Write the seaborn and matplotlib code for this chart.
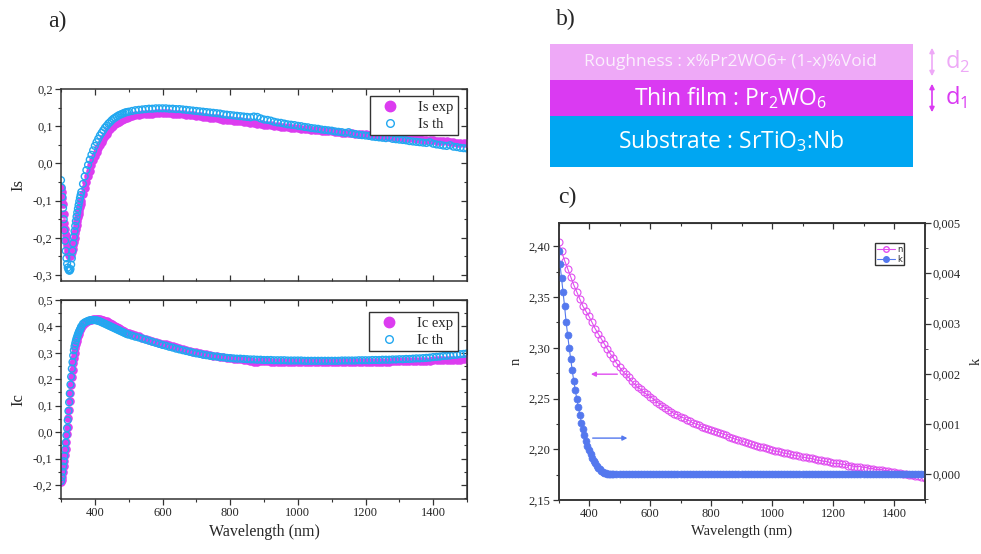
import numpy as np
import matplotlib
matplotlib.use('Agg')
import matplotlib.pyplot as plt
from matplotlib.ticker import FuncFormatter, MultipleLocator
from matplotlib.patches import Rectangle
from matplotlib.lines import Line2D
import seaborn as sns

sns.set_style('ticks')
plt.rcParams['font.family'] = ['Liberation Serif', 'DejaVu Serif']
plt.rcParams['mathtext.fontset'] = 'custom'
plt.rcParams['mathtext.rm'] = 'Open Sans'

# ---------------- data ----------------
# panel a: wavelength grid (2 nm / 5 nm in the UV, 10 nm above 500 nm)
wl_a = list(range(300, 360, 2)) + list(range(360, 500, 5)) + list(range(500, 1501, 10))

is_exp = [-0.065, -0.078, -0.092, -0.110, -0.135, -0.160, -0.177, -0.193, -0.207, -0.220,
          -0.230, -0.238, -0.246, -0.250, -0.249, -0.245, -0.238, -0.230, -0.220, -0.210,
          -0.200, -0.188, -0.176, -0.165, -0.155, -0.145, -0.136, -0.127, -0.118, -0.110,
          -0.102, -0.083, -0.066, -0.050, -0.035, -0.020, -0.005, 0.008, 0.020, 0.031,
          0.041, 0.050, 0.058, 0.066, 0.073, 0.080, 0.086, 0.092, 0.097, 0.101,
          0.105, 0.108, 0.111, 0.114, 0.117, 0.119, 0.121, 0.123,
          0.125, 0.127, 0.129, 0.131, 0.132, 0.133, 0.134, 0.134, 0.135, 0.135,
          0.135, 0.135, 0.135, 0.134, 0.134, 0.133, 0.132, 0.131, 0.130, 0.129,
          0.128, 0.127, 0.126, 0.124, 0.123, 0.122, 0.121, 0.120, 0.118, 0.117,
          0.116, 0.115, 0.114, 0.113, 0.111, 0.110, 0.109, 0.108, 0.107, 0.105,
          0.104, 0.103, 0.102, 0.101, 0.100, 0.099, 0.098, 0.097, 0.096, 0.095,
          0.094, 0.093, 0.092, 0.092, 0.091, 0.090, 0.089, 0.088, 0.087, 0.087,
          0.086, 0.085, 0.084, 0.083, 0.083, 0.082, 0.081, 0.080, 0.079, 0.079,
          0.078, 0.077, 0.076, 0.076, 0.075, 0.074, 0.073, 0.072, 0.072, 0.071,
          0.070, 0.069, 0.068, 0.068, 0.067, 0.066, 0.065, 0.064, 0.063, 0.063,
          0.062, 0.061, 0.060, 0.060, 0.059, 0.058, 0.057, 0.056, 0.056, 0.055,
          0.054]

is_th = [-0.045, -0.065, -0.090, -0.120, -0.150, -0.180, -0.208, -0.235, -0.255, -0.270,
         -0.280, -0.285, -0.288, -0.288, -0.284, -0.272, -0.255, -0.235, -0.215, -0.198,
         -0.182, -0.168, -0.155, -0.143, -0.132, -0.122, -0.112, -0.102, -0.093, -0.085,
         -0.077, -0.055, -0.035, -0.018, -0.004, 0.010, 0.023, 0.035, 0.047, 0.057,
         0.066, 0.075, 0.082, 0.089, 0.096, 0.101, 0.107, 0.111, 0.116, 0.120,
         0.123, 0.126, 0.129, 0.131, 0.133, 0.135, 0.137, 0.138,
         0.139, 0.141, 0.143, 0.144, 0.145, 0.146, 0.147, 0.147, 0.148, 0.148,
         0.148, 0.148, 0.147, 0.147, 0.146, 0.146, 0.145, 0.144, 0.143, 0.142,
         0.141, 0.140, 0.139, 0.138, 0.137, 0.136, 0.135, 0.134, 0.132, 0.131,
         0.130, 0.129, 0.128, 0.127, 0.126, 0.125, 0.124, 0.126, 0.125, 0.121,
         0.118, 0.117, 0.115, 0.112, 0.110, 0.109, 0.107, 0.105, 0.104, 0.103,
         0.101, 0.100, 0.098, 0.097, 0.095, 0.094, 0.093, 0.091, 0.090, 0.089,
         0.088, 0.086, 0.085, 0.084, 0.082, 0.084, 0.080, 0.079, 0.077, 0.076,
         0.075, 0.074, 0.072, 0.071, 0.070, 0.069, 0.068, 0.070, 0.066, 0.065,
         0.064, 0.063, 0.062, 0.060, 0.059, 0.058, 0.057, 0.056, 0.055, 0.057,
         0.053, 0.051, 0.050, 0.048, 0.047, 0.049, 0.045, 0.044, 0.042, 0.041,
         0.040]

ic_exp = [-0.190, -0.180, -0.168, -0.150, -0.130, -0.110, -0.087, -0.062, -0.036, -0.008,
          0.020, 0.052, 0.084, 0.116, 0.148, 0.180, 0.208, 0.237, 0.260, 0.282,
          0.300, 0.317, 0.333, 0.345, 0.356, 0.365, 0.373, 0.381, 0.388, 0.393,
          0.398, 0.407, 0.413, 0.418, 0.421, 0.424, 0.426, 0.428, 0.429, 0.429,
          0.429, 0.428, 0.426, 0.424, 0.422, 0.420, 0.417, 0.414, 0.410, 0.406,
          0.402, 0.398, 0.394, 0.390, 0.387, 0.383, 0.380, 0.377,
          0.374, 0.370, 0.366, 0.362, 0.358, 0.354, 0.350, 0.346, 0.342, 0.339,
          0.335, 0.332, 0.328, 0.325, 0.321, 0.318, 0.315, 0.311, 0.308, 0.305,
          0.302, 0.299, 0.297, 0.294, 0.292, 0.289, 0.287, 0.285, 0.283, 0.281,
          0.279, 0.278, 0.276, 0.275, 0.273, 0.272, 0.268, 0.264, 0.266, 0.269,
          0.268, 0.268, 0.267, 0.267, 0.267, 0.266, 0.266, 0.266, 0.265, 0.265,
          0.265, 0.265, 0.265, 0.264, 0.264, 0.264, 0.264, 0.264, 0.264, 0.264,
          0.264, 0.264, 0.264, 0.265, 0.265, 0.265, 0.265, 0.265, 0.266, 0.266,
          0.266, 0.266, 0.266, 0.267, 0.267, 0.267, 0.267, 0.267, 0.268, 0.268,
          0.268, 0.268, 0.269, 0.269, 0.269, 0.270, 0.270, 0.270, 0.271, 0.271,
          0.272, 0.272, 0.272, 0.273, 0.273, 0.273, 0.274, 0.274, 0.274, 0.275,
          0.275]

ic_th = [-0.185, -0.170, -0.150, -0.130, -0.110, -0.090, -0.066, -0.040, -0.012, 0.015,
         0.045, 0.080, 0.113, 0.146, 0.180, 0.210, 0.240, 0.265, 0.290, 0.310,
         0.325, 0.336, 0.346, 0.355, 0.362, 0.370, 0.376, 0.382, 0.388, 0.393,
         0.400, 0.410, 0.415, 0.418, 0.421, 0.423, 0.424, 0.424, 0.424, 0.423,
         0.421, 0.419, 0.416, 0.413, 0.410, 0.407, 0.404, 0.401, 0.398, 0.395,
         0.392, 0.389, 0.386, 0.383, 0.380, 0.377, 0.374, 0.371,
         0.369, 0.365, 0.361, 0.358, 0.354, 0.350, 0.346, 0.342, 0.338, 0.334,
         0.330, 0.327, 0.323, 0.320, 0.316, 0.313, 0.310, 0.307, 0.304, 0.301,
         0.298, 0.296, 0.293, 0.291, 0.289, 0.287, 0.286, 0.284, 0.283, 0.281,
         0.280, 0.279, 0.278, 0.278, 0.277, 0.276, 0.275, 0.275, 0.274, 0.274,
         0.273, 0.273, 0.273, 0.272, 0.272, 0.272, 0.272, 0.271, 0.271, 0.271,
         0.271, 0.271, 0.270, 0.270, 0.270, 0.270, 0.270, 0.270, 0.270, 0.270,
         0.270, 0.270, 0.270, 0.271, 0.271, 0.271, 0.271, 0.271, 0.272, 0.272,
         0.272, 0.272, 0.273, 0.273, 0.273, 0.274, 0.274, 0.274, 0.275, 0.275,
         0.276, 0.276, 0.277, 0.277, 0.278, 0.279, 0.279, 0.280, 0.281, 0.282,
         0.284, 0.285, 0.286, 0.288, 0.289, 0.290, 0.292, 0.293, 0.295, 0.296,
         0.298]

# panel c: refractive index n and extinction k
wl_n = list(range(300, 1501, 10))
n_vals = [2.404, 2.395, 2.386, 2.378, 2.370, 2.362, 2.355, 2.348, 2.341, 2.336,
          2.331, 2.325, 2.319, 2.314, 2.309, 2.304, 2.299, 2.294, 2.290, 2.285,
          2.281, 2.277, 2.274, 2.271, 2.267, 2.264, 2.261, 2.259, 2.256, 2.254,
          2.252, 2.250, 2.247, 2.245, 2.243, 2.241, 2.239, 2.237, 2.235, 2.234,
          2.232, 2.231, 2.229, 2.228, 2.226, 2.225, 2.224, 2.222, 2.221, 2.220,
          2.219, 2.218, 2.217, 2.216, 2.215, 2.214, 2.212, 2.211, 2.210, 2.209,
          2.208, 2.207, 2.206, 2.205, 2.204, 2.203, 2.202, 2.202, 2.201, 2.200,
          2.199, 2.198, 2.198, 2.197, 2.196, 2.196, 2.195, 2.194, 2.194, 2.193,
          2.192, 2.192, 2.191, 2.191, 2.190, 2.189, 2.189, 2.188, 2.188, 2.187,
          2.186, 2.186, 2.186, 2.185, 2.185, 2.184, 2.184, 2.183, 2.183, 2.183,
          2.182, 2.182, 2.181, 2.181, 2.180, 2.180, 2.180, 2.179, 2.179, 2.178,
          2.178, 2.177, 2.177, 2.176, 2.176, 2.175, 2.175, 2.174, 2.174, 2.173,
          2.172]

wl_k = list(range(300, 481, 5)) + list(range(490, 1501, 10))
k_vals = [0.00445, 0.00418, 0.00390, 0.00362, 0.00334, 0.00303, 0.00277, 0.00252,
          0.00229, 0.00207, 0.00186, 0.00168, 0.00150, 0.00134, 0.00118, 0.00103,
          0.00090, 0.00078, 0.00067, 0.00057, 0.00048, 0.00040, 0.00033, 0.00027,
          0.00022, 0.00017, 0.00013, 0.00010, 0.00007, 0.00005, 0.00003, 0.00002,
          0.00001, 0.0, 0.0, 0.0, 0.0] + [0.0] * 102

# panel b: layer stack
layer_labels = ['Roughness : x%Pr2WO6+ (1-x)%Void',
                'Thin film : Pr$_{2}$WO$_{6}$',
                'Substrate : SrTiO$_{3}$:Nb']
layer_colors = ['#EEA9F7', '#DA3AF2', '#00A6F2']
thick_labels = ['d$_{2}$', 'd$_{1}$']

c_exp = '#DC3CF0'
c_th = '#22A8F0'
c_n = '#E04EF0'
c_k = '#5478EE'
spine_c = '#333333'


def comma(fmt):
    def f(v, p):
        if abs(v) < 1e-12:
            v = 0.0
        return fmt.format(v).replace('.', ',')
    return FuncFormatter(f)


def frame(ax, bottom_in=False):
    for s in ax.spines.values():
        s.set_visible(True)
        s.set_color(spine_c)
        s.set_linewidth(1.1)
    ax.tick_params(which='major', length=4, width=0.9, color=spine_c, labelsize=9, pad=2)
    ax.tick_params(which='minor', length=2.5, width=0.8, color=spine_c)
    ax.tick_params(axis='y', which='both', direction='out')
    ax.tick_params(axis='x', which='both', direction='in' if bottom_in else 'out')


def inner_ticks(ax, side, major, minor):
    if side in ('top', 'bottom'):
        s = ax.secondary_xaxis(side)
        axis = s.xaxis
        s.tick_params(which='both', direction='in', labeltop=False, labelbottom=False,
                      color=spine_c)
    else:
        s = ax.secondary_yaxis(side)
        axis = s.yaxis
        s.tick_params(which='both', direction='in', labelright=False, color=spine_c)
    axis.set_major_locator(MultipleLocator(major))
    axis.set_minor_locator(MultipleLocator(minor))
    s.tick_params(which='major', length=4, width=0.9)
    s.tick_params(which='minor', length=2.5, width=0.8)


def dot_legend(ax, labels, anchor):
    h = [Line2D([], [], ls='', marker='o', ms=7.5, mfc=c_exp, mec=c_exp),
         Line2D([], [], ls='', marker='o', ms=5.5, mfc='none', mec=c_th, mew=1.0)]
    leg = ax.legend(h, labels, loc='upper right', bbox_to_anchor=anchor,
                    fontsize=10.5, frameon=True, fancybox=False, edgecolor=spine_c,
                    framealpha=1, handletextpad=0.8, borderpad=0.3,
                    labelspacing=0.25, handlelength=2.2)
    leg.get_frame().set_linewidth(1.0)


fig = plt.figure(figsize=(9.81, 5.54), dpi=100)

# ---------------- panel a (Is) ----------------
ax_is = fig.add_axes([61 / 981, 1 - 281 / 554, 406 / 981, 192 / 554])
sns.scatterplot(x=wl_a, y=is_exp, ax=ax_is, color=c_exp, s=38, linewidth=0,
                legend=False)
sns.scatterplot(x=wl_a, y=is_th, ax=ax_is, color=c_th, facecolor='none',
                edgecolor=c_th, s=24, linewidth=1.0, legend=False)
ax_is.set_xlim(300, 1500)
ax_is.set_ylim(-0.316, 0.2)
ax_is.xaxis.set_major_locator(MultipleLocator(200))
ax_is.xaxis.set_minor_locator(MultipleLocator(100))
ax_is.yaxis.set_major_locator(MultipleLocator(0.1))
ax_is.yaxis.set_minor_locator(MultipleLocator(0.05))
ax_is.yaxis.set_major_formatter(comma('{:.1f}'))
frame(ax_is, bottom_in=True)
ax_is.tick_params(axis='x', which='both', top=True, labelbottom=False)
ax_is.set_ylabel('Is', fontsize=12, labelpad=5)
inner_ticks(ax_is, 'right', 0.1, 0.05)
dot_legend(ax_is, ['Is exp', 'Is th'], (0.995, 1.0))

# ---------------- panel a (Ic) ----------------
ax_ic = fig.add_axes([61 / 981, 1 - 499 / 554, 406 / 981, 199 / 554])
sns.scatterplot(x=wl_a, y=ic_exp, ax=ax_ic, color=c_exp, s=38, linewidth=0,
                legend=False)
sns.scatterplot(x=wl_a, y=ic_th, ax=ax_ic, color=c_th, facecolor='none',
                edgecolor=c_th, s=24, linewidth=1.0, legend=False)
ax_ic.set_xlim(300, 1500)
ax_ic.set_ylim(-0.253, 0.5)
ax_ic.xaxis.set_major_locator(MultipleLocator(200))
ax_ic.xaxis.set_minor_locator(MultipleLocator(100))
ax_ic.yaxis.set_major_locator(MultipleLocator(0.1))
ax_ic.yaxis.set_minor_locator(MultipleLocator(0.05))
ax_ic.yaxis.set_major_formatter(comma('{:.1f}'))
frame(ax_ic)
ax_ic.set_ylabel('Ic', fontsize=12, labelpad=5)
ax_ic.set_xlabel('Wavelength (nm)', fontsize=11.5, labelpad=3)
inner_ticks(ax_ic, 'top', 200, 100)
inner_ticks(ax_ic, 'right', 0.1, 0.05)
dot_legend(ax_ic, ['Ic exp', 'Ic th'], (0.995, 0.975))

# ---------------- panel c ----------------
ax_c = fig.add_axes([558.5 / 981, 1 - 500 / 554, 366 / 981, 277 / 554])
sns.lineplot(x=wl_n, y=n_vals, ax=ax_c, color=c_n, marker='o', markersize=5,
             markerfacecolor='none', markeredgecolor=c_n, markeredgewidth=0.8,
             linewidth=0.8, legend=False)
ax_c.set_xlim(300, 1500)
ax_c.set_ylim(2.15, 2.423)
ax_c.xaxis.set_major_locator(MultipleLocator(200))
ax_c.xaxis.set_minor_locator(MultipleLocator(100))
ax_c.yaxis.set_major_locator(MultipleLocator(0.05))
ax_c.yaxis.set_minor_locator(MultipleLocator(0.025))
ax_c.yaxis.set_major_formatter(comma('{:.2f}'))
frame(ax_c)
ax_c.set_xlabel('Wavelength (nm)', fontsize=10.5, labelpad=3)
ax_c.set_ylabel('n', fontsize=10.5, labelpad=4)
inner_ticks(ax_c, 'top', 200, 100)

ax_k = ax_c.twinx()
sns.lineplot(x=wl_k, y=k_vals, ax=ax_k, color=c_k, marker='o', markersize=5,
             markerfacecolor=c_k, markeredgecolor=c_k, markeredgewidth=0.5,
             linewidth=0.8, legend=False)
ax_k.set_ylim(-0.00051, 0.0050001)
ax_k.yaxis.set_major_locator(MultipleLocator(0.001))
ax_k.yaxis.set_minor_locator(MultipleLocator(0.0005))
ax_k.yaxis.set_major_formatter(comma('{:.3f}'))
ax_k.tick_params(axis='y', which='major', direction='out', length=4, width=0.9,
                 color=spine_c, labelsize=9, pad=2)
ax_k.tick_params(axis='y', which='minor', direction='out', length=2.5, color=spine_c)
for s in ax_k.spines.values():
    s.set_color(spine_c)
    s.set_linewidth(1.1)
ax_k.set_ylabel('k', fontsize=10.5, labelpad=6)

# direction arrows
ax_c.annotate('', xy=(397, 2.274), xytext=(502, 2.274),
              arrowprops=dict(arrowstyle='-|>', color=c_n, lw=1, mutation_scale=7))
ax_c.annotate('', xy=(535, 2.211), xytext=(403, 2.211),
              arrowprops=dict(arrowstyle='-|>', color=c_k, lw=1, mutation_scale=7))

h = [Line2D([], [], color=c_n, lw=0.8, marker='o', ms=4, mfc='none', mec=c_n),
     Line2D([], [], color=c_k, lw=0.8, marker='o', ms=4, mfc=c_k, mec=c_k)]
leg = ax_k.legend(h, ['n', 'k'], loc='upper right', bbox_to_anchor=(0.955, 0.942),
                  frameon=True, fancybox=False, edgecolor=spine_c,
                  framealpha=1, handlelength=2.2, handletextpad=0.2,
                  borderpad=0.2, labelspacing=0.1, prop={'family': 'DejaVu Sans', 'size': 6})
leg.get_frame().set_linewidth(1.0)

# ---------------- panel b (layer stack) ----------------
ax_b = fig.add_axes([0, 0, 1, 1], zorder=-1)
ax_b.set_xlim(0, 981)
ax_b.set_ylim(554, 0)
ax_b.axis('off')
tops = [44, 80, 116]
heights = [36, 36, 51]
sizes = [12.5, 16.5, 16.5]
txt_cols = ['#FBEFFD', 'white', 'white']
for lab, col, t, hgt, fs, tc in zip(layer_labels, layer_colors, tops, heights, sizes, txt_cols):
    ax_b.add_patch(Rectangle((550, t), 363, hgt, color=col, lw=0))
    ax_b.text(731, t + hgt / 2, lab, ha='center', va='center', color=tc,
              fontsize=fs, family='Open Sans')
for lab, col, t in zip(thick_labels, layer_colors[:2], tops[:2]):
    ax_b.annotate('', xy=(932, t + 1), xytext=(932, t + 35),
                  arrowprops=dict(arrowstyle='<|-|>', color=col, lw=1.2, mutation_scale=7))
    ax_b.text(945, t + 18, lab, color=col, fontsize=17, family='Open Sans',
              ha='left', va='center')

for lab, x, y in [('a)', 57, 21), ('b)', 566, 19), ('c)', 567, 197)]:
    fig.text(x / 981, 1 - y / 554, lab, ha='center', va='center', fontsize=17,
             family='Liberation Serif')

fig.savefig('out.png', dpi=100)
